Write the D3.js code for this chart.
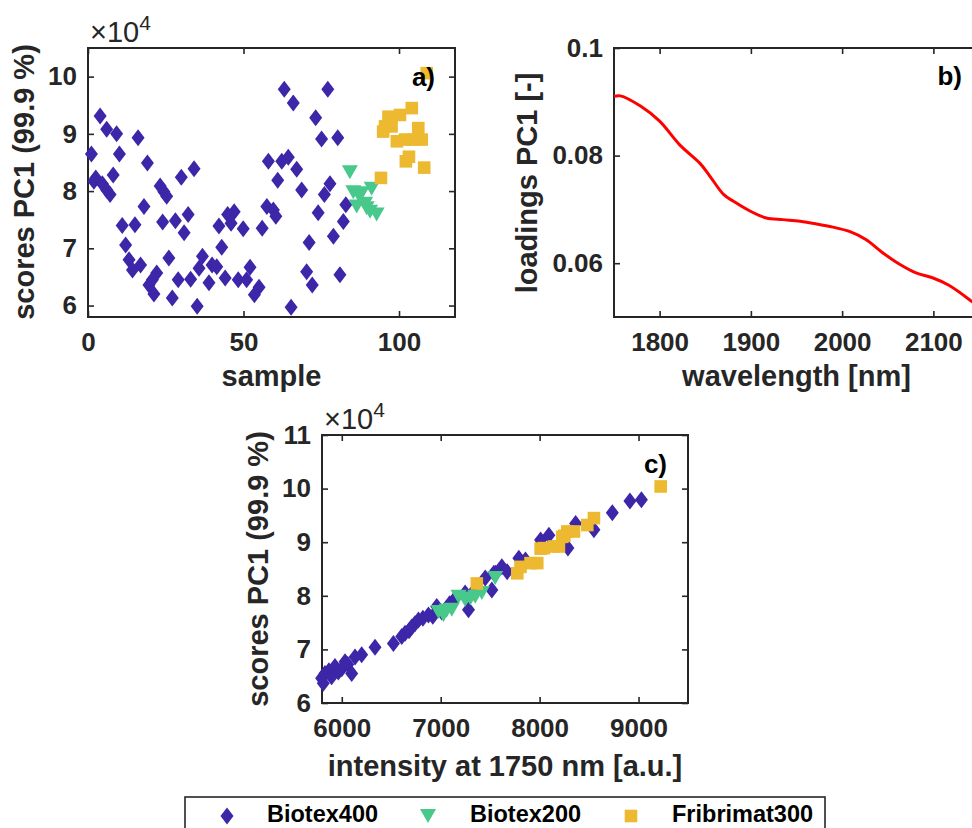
<!DOCTYPE html>
<html><head><meta charset="utf-8">
<script src="https://cdn.jsdelivr.net/npm/d3@7"></script>
<style>
body{margin:0;background:#fff}
svg{display:block}
text{font-family:'Liberation Sans',Arial,Helvetica,sans-serif;font-weight:bold}
</style>
</head><body>
<svg id="chart" width="972" height="828"></svg>
<script>
// ---------- DATA ----------
// Panel a: sample index vs scores PC1 (x1e4)
const aB400Sample = [3.9,6.0,9.2,16.1,1.1,10.1,19.1,34.1,30.0,8.1,2.5,1.9,4.6,6.0,7.1,23.2,24.4,25.3,18.0,32.2,24.0,28.1,11.0,15.1,30.9,12.1,26.0,13.2,16.9,14.3,22.1,20.7,19.6,21.2,29.0,33.0,27.1,35.1,36.8,35.7,39.9,38.9,
  63.1,66.0,77.1,73.2,75.1,58.0,62.3,64.4,67.1,61.0,68.7,77.8,76.0,74.0,47.0,44.9,46.0,42.1,49.9,57.5,59.6,60.4,56.0,43.0,71.1,78.9,41.4,44.1,48.3,52.1,51.0,55.0,53.5,65.3,70.3,72.1,
  80.3,82.9,82.1,81.0];
const aB400Score = [9.31,9.08,9.00,8.93,8.65,8.65,8.49,8.39,8.24,8.28,8.23,8.17,8.13,8.02,7.94,8.09,7.99,7.91,7.73,7.59,7.46,7.48,7.40,7.41,7.27,7.06,6.83,6.80,6.71,6.62,6.57,6.45,6.36,6.20,6.45,6.46,6.13,5.99,6.86,6.65,6.71,6.40,
  9.78,9.54,9.78,9.28,8.91,8.52,8.52,8.59,8.38,8.19,8.02,8.13,7.94,7.62,7.64,7.59,7.44,7.39,7.34,7.73,7.67,7.56,7.35,7.02,7.10,7.21,6.68,6.48,6.45,6.67,6.45,6.32,6.19,5.97,6.59,6.36,
  8.93,7.76,7.47,6.54];
const aB200Sample = [84.2,85.3,86.9,88.0,91.2,86.4,89.1,89.6,90.7,92.8];
const aB200Score  = [8.33,7.98,7.94,7.96,8.04,7.73,7.78,7.70,7.64,7.59];
const aF300Sample = [94.2,94.9,95.5,96.6,97.6,100.3,104.1,99.3,101.9,104.6,106.2,107.3,103.2,102.2,108.1,108.9];
const aF300Score  = [8.23,9.04,9.13,9.30,9.13,9.33,9.45,8.87,8.90,8.90,9.10,8.90,8.60,8.52,8.41,10.06];

// Panel b: loadings PC1 vs wavelength
const bWavelength = [1750,1757,1779,1800,1822,1844,1855,1870,1881,1899,1917,1935,1954,1972,1990,2008,2026,2044,2063,2081,2099,2117,2142,2150];
const bLoading    = [0.0910,0.0911,0.0892,0.0864,0.0820,0.0786,0.0762,0.0728,0.0715,0.0697,0.0684,0.0681,0.0678,0.0673,0.0667,0.0659,0.0644,0.0620,0.0598,0.0582,0.0573,0.0559,0.0529,0.0518];

// Panel c: intensity at 1750 nm vs scores PC1 (x1e4)
const cB400Int   = [5796,5813,5830,5870,5897,5931,5965,6000,6033,6060,6100,6134,6201,6336,6522,6606,6640,6680,6707,6740,6775,6820,6876,6920,6960,7011,7090,7146,7281,7247,7340,7450,7517,7618,7537,7554,7672,7790,7857,8010,8094,8286,8364,8549,8735,8913,9029];
const cB400Score = [6.46,6.37,6.55,6.60,6.49,6.68,6.58,6.64,6.77,6.72,6.55,6.86,6.90,7.04,7.11,7.24,7.30,7.35,7.42,7.48,7.55,7.58,7.64,7.62,7.80,7.70,7.85,7.95,7.74,8.05,8.10,8.33,8.11,8.54,8.42,8.42,8.45,8.70,8.67,9.04,9.13,8.89,9.35,9.23,9.55,9.77,9.79];
const cB200Int   = [6977,7028,7060,7112,7180,7247,7300,7349,7416,7551];
const cB200Score = [7.70,7.64,7.72,7.74,7.98,7.92,7.95,7.98,8.05,8.33];
const cF300Int   = [7365,7774,7807,7908,7976,8010,8043,8144,8195,8229,8250,8280,8347,8482,8549,9224];
const cF300Score = [8.23,8.42,8.54,8.61,8.61,8.88,8.89,8.92,8.92,9.10,9.12,9.20,9.20,9.32,9.45,10.04];

// Ticks
const aXTicks = [0,50,100];
const aYTicks = [6,7,8,9,10];
const bXTicks = [1800,1900,2000,2100];
const bYTicks = [0.06,0.08,0.1];
const cXTicks = [6000,7000,8000,9000];
const cYTicks = [6,7,8,9,10,11];

const seriesNames = ["Biotex400","Biotex200","Fribrimat300"];
const seriesColors = ["#3D26A8","#48C98B","#EDB930"];

// ---------- DRAWING ----------
const svg = d3.select("#chart");
const AX = "#262626";
const TICK_FS = 26, LABEL_FS = 29;

function styleAxis(sel){
  sel.select(".domain").remove();
  sel.attr("font-family", null).attr("font-size", TICK_FS);
  sel.selectAll("line").attr("stroke", AX).attr("stroke-width", 1.6);
  sel.selectAll("text").attr("fill", AX);
}

function frame(x, y, xTicks, yTicks, xFmt, yFmt){
  const [x0,x1] = x.range(), [y0,y1] = y.range();
  const g = svg.append("g");
  g.append("g").attr("transform",`translate(0,${y0})`)
    .call(d3.axisBottom(x).tickValues(xTicks).tickFormat(xFmt).tickSizeInner(-6).tickSizeOuter(0).tickPadding(16)).call(styleAxis);
  g.append("g").attr("transform",`translate(0,${y1})`)
    .call(d3.axisTop(x).tickValues(xTicks).tickFormat("").tickSizeInner(-6).tickSizeOuter(0)).call(styleAxis);
  g.append("g").attr("transform",`translate(${x0},0)`)
    .call(d3.axisLeft(y).tickValues(yTicks).tickFormat(yFmt).tickSizeInner(-6).tickSizeOuter(0).tickPadding(11)).call(styleAxis);
  g.append("g").attr("transform",`translate(${x1},0)`)
    .call(d3.axisRight(y).tickValues(yTicks).tickFormat("").tickSizeInner(-6).tickSizeOuter(0)).call(styleAxis);
  g.append("rect").attr("x",x0).attr("y",y1).attr("width",x1-x0).attr("height",y0-y1)
    .attr("fill","none").attr("stroke",AX).attr("stroke-width",2);
  return g;
}

const diamond = (cx,cy,w=6.5,h=8.5)=>`M${cx},${cy-h}L${cx+w},${cy}L${cx},${cy+h}L${cx-w},${cy}Z`;
const triDown = (cx,cy)=>`M${cx-8},${cy-7}L${cx+8},${cy-7}L${cx},${cy+7}Z`;
const square  = (cx,cy,s=6.3)=>`M${cx-s},${cy-s}L${cx+s},${cy-s}L${cx+s},${cy+s}L${cx-s},${cy+s}Z`;
const shapes = [diamond, triDown, square];

function scatter(g, x, y, xs, ys, k){
  g.append("g").selectAll("path").data(d3.zip(xs, ys)).join("path")
    .attr("d", d => shapes[k](x(d[0]), y(d[1])))
    .attr("fill", seriesColors[k]);
}

function multiplier(x0, yTop){
  const t = svg.append("text").attr("x", x0+2).attr("y", yTop-6)
    .attr("font-size", 29).attr("fill", AX).style("font-weight","normal");
  t.append("tspan").text("\u00d710");
  t.append("tspan").attr("dy", -12).attr("font-size", 21).text("4");
}

function ylabel(text, x, cy){
  svg.append("text").attr("transform",`translate(${x},${cy}) rotate(-90)`)
    .attr("text-anchor","middle").attr("font-size",LABEL_FS).attr("fill",AX).text(text);
}
function xlabel(text, cx, y){
  svg.append("text").attr("x",cx).attr("y",y).attr("text-anchor","middle")
    .attr("font-size",LABEL_FS).attr("fill",AX).text(text);
}
function tag(text, x, y){
  svg.append("text").attr("x",x).attr("y",y).attr("text-anchor","end")
    .attr("font-size",26).attr("fill","#000").text(text);
}

// Panel a
const xa = d3.scaleLinear().domain([0,118]).range([88,455]);
const ya = d3.scaleLinear().domain([5.8,10.5]).range([317,48]);
const ga = frame(xa, ya, aXTicks, aYTicks, d3.format("d"), d3.format("d"));
scatter(ga, xa, ya, aB400Sample, aB400Score, 0);
scatter(ga, xa, ya, aB200Sample, aB200Score, 1);
scatter(ga, xa, ya, aF300Sample, aF300Score, 2);
multiplier(88, 48);
ylabel("scores PC1 (99.9 %)", 34, 182);
xlabel("sample", (88+455)/2, 386);
tag("a)", 435, 86);

// Panel b
const xb = d3.scaleLinear().domain([1750,2150]).range([614,979]);
const yb = d3.scaleLinear().domain([0.05,0.1]).range([317,48]);
const gb = frame(xb, yb, bXTicks, bYTicks, d3.format("d"), d => d===0.1 ? "0.1" : d3.format(".2f")(d));
gb.append("path").datum(d3.zip(bWavelength, bLoading))
  .attr("d", d3.line().x(d=>xb(d[0])).y(d=>yb(d[1])).curve(d3.curveCatmullRom))
  .attr("fill","none").attr("stroke","#FF0000").attr("stroke-width",3);
ylabel("loadings PC1 [-]", 537, 183);
xlabel("wavelength [nm]", (614+979)/2, 386);
tag("b)", 962, 85);

// Panel c
const xc = d3.scaleLinear().domain([5800,9500]).range([322,688]);
const yc = d3.scaleLinear().domain([6,11]).range([703,435]);
const gc = frame(xc, yc, cXTicks, cYTicks, d3.format("d"), d3.format("d"));
scatter(gc, xc, yc, cB400Int, cB400Score, 0);
scatter(gc, xc, yc, cB200Int, cB200Score, 1);
scatter(gc, xc, yc, cF300Int, cF300Score, 2);
multiplier(322, 435);
ylabel("scores PC1 (99.9 %)", 268, 569);
xlabel("intensity at 1750 nm [a.u.]", (322+688)/2, 776);
tag("c)", 667, 473);

// Legend
const lg = svg.append("g");
lg.append("rect").attr("x",185).attr("y",797).attr("width",640).attr("height",50)
  .attr("fill","#fff").attr("stroke",AX).attr("stroke-width",1.6);
const legMarkX = [227,428,631], legTextX = [267,470,672];
seriesNames.forEach((name,k)=>{
  lg.append("path").attr("d", shapes[k](legMarkX[k], 816)).attr("fill", seriesColors[k]);
  lg.append("text").attr("x",legTextX[k]).attr("y",822).attr("font-size",23.5).attr("fill","#000").text(name);
});
</script>
</body></html>
